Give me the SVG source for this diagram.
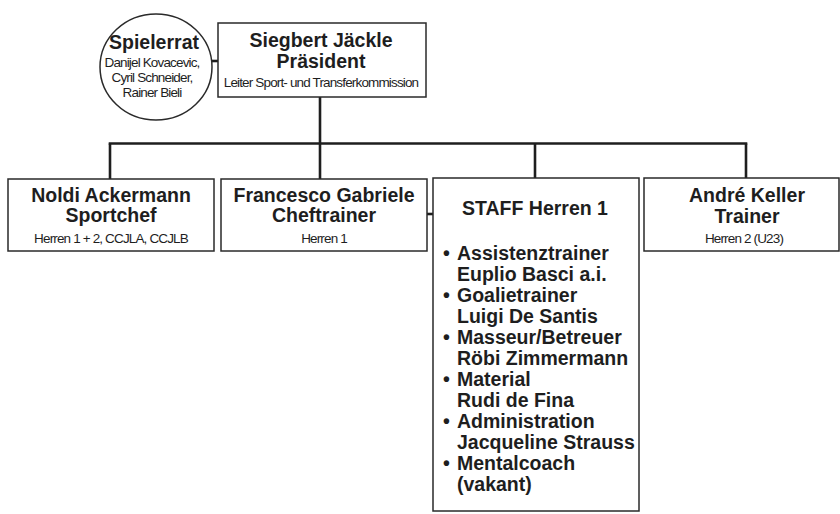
<svg xmlns="http://www.w3.org/2000/svg" width="840" height="514" viewBox="0 0 840 514">
<style>
.box{fill:#fff;stroke:#2a2a2a;stroke-width:1.5}
.ln{stroke:#1e1e1e;stroke-width:2.6;fill:none}
.h{font-family:"Liberation Sans",Arial,sans-serif;font-weight:bold;font-size:19.5px;fill:#1e1e1e;text-anchor:middle}
.s{font-family:"Liberation Sans",Arial,sans-serif;font-size:13.5px;letter-spacing:-0.85px;fill:#1e1e1e;text-anchor:middle}
.b{font-family:"Liberation Sans",Arial,sans-serif;font-weight:bold;font-size:19.5px;fill:#1e1e1e}
</style>
<rect width="840" height="514" fill="#fff"/>
<g id="connectors">
<line class="ln" x1="320" y1="97" x2="320" y2="179"/>
<line class="ln" x1="108.7" y1="143.5" x2="747.3" y2="143.5"/>
<line class="ln" x1="110" y1="143.5" x2="110" y2="179"/>
<line class="ln" x1="535" y1="143.5" x2="535" y2="178"/>
<line class="ln" x1="746" y1="143.5" x2="746" y2="178"/>
<line class="ln" x1="212" y1="61" x2="218" y2="61"/>
<line class="ln" x1="427" y1="214" x2="433" y2="214"/>
</g>
<g id="spielerrat">
<ellipse class="box" cx="156" cy="67" rx="56" ry="53"/>
<text class="h" x="154" y="49">Spielerrat</text>
<text class="s" x="152" y="67">Danijel Kovacevic,</text>
<text class="s" x="152" y="82">Cyril Schneider,</text>
<text class="s" x="152" y="97">Rainer Bieli</text>
</g>
<g id="praesident">
<rect class="box" x="218" y="23" width="208" height="74"/>
<text class="h" x="321" y="47">Siegbert Jäckle</text>
<text class="h" x="321" y="68">Präsident</text>
<text class="s" x="321" y="87">Leiter Sport- und Transferkommission</text>
</g>
<g id="noldi">
<rect class="box" x="8" y="179" width="206" height="72"/>
<text class="h" x="111" y="202">Noldi Ackermann</text>
<text class="h" x="111" y="222">Sportchef</text>
<text class="s" x="111" y="243">Herren 1 + 2, CCJLA, CCJLB</text>
</g>
<g id="francesco">
<rect class="box" x="221" y="179" width="206" height="72"/>
<text class="h" x="324" y="202">Francesco Gabriele</text>
<text class="h" x="324" y="222">Cheftrainer</text>
<text class="s" x="324" y="243">Herren 1</text>
</g>
<g id="staff">
<rect class="box" x="433" y="178" width="206" height="333"/>
<text class="h" x="535" y="215">STAFF Herren 1</text>
<text class="b" x="443" y="260">•</text><text class="b" x="457" y="260">Assistenztrainer</text>
<text class="b" x="457" y="281">Euplio Basci a.i.</text>
<text class="b" x="443" y="302">•</text><text class="b" x="457" y="302">Goalietrainer</text>
<text class="b" x="457" y="323">Luigi De Santis</text>
<text class="b" x="443" y="344">•</text><text class="b" x="457" y="344">Masseur/Betreuer</text>
<text class="b" x="457" y="365">Röbi Zimmermann</text>
<text class="b" x="443" y="386">•</text><text class="b" x="457" y="386">Material</text>
<text class="b" x="457" y="407">Rudi de Fina</text>
<text class="b" x="443" y="428">•</text><text class="b" x="457" y="428">Administration</text>
<text class="b" x="457" y="449">Jacqueline Strauss</text>
<text class="b" x="443" y="470">•</text><text class="b" x="457" y="470">Mentalcoach</text>
<text class="b" x="457" y="491">(vakant)</text>
</g>
<g id="andre">
<rect class="box" x="644" y="178" width="195" height="73"/>
<text class="h" x="747" y="202">André Keller</text>
<text class="h" x="747" y="223">Trainer</text>
<text class="s" x="744" y="243">Herren 2 (U23)</text>
</g>
</svg>
